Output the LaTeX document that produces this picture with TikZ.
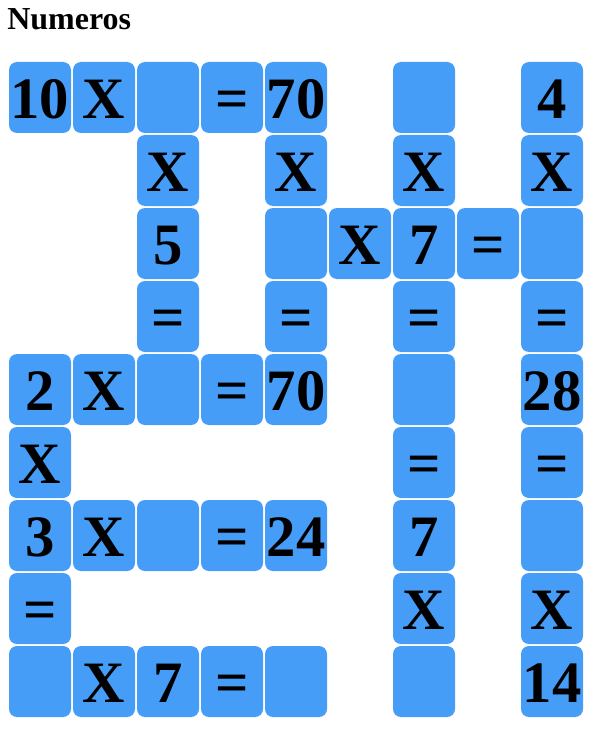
\documentclass[tikz,border=0pt]{standalone}
\usepackage{fontspec}
\setmainfont{Liberation Serif}
\usepackage{xcolor}
\definecolor{cellblue}{HTML}{469DF8}

\begin{document}
\begin{tikzpicture}[x=0.75pt,y=-0.75pt]
    %styles
    \tikzstyle{cell}=[rectangle,rounded corners=6pt,fill=cellblue,minimum width=46.5pt,minimum height=53.25pt,inner sep=0pt,text height=31.5pt,text depth=0pt,font=\fontsize{44}{44}\selectfont\bfseries]
    \tikzstyle{title}=[anchor=base west,inner sep=0pt,font=\fontsize{24}{24}\selectfont\bfseries]
    \useasboundingbox (0,0) rectangle (595,731);
    %title
    \node[title] (tit) at (7,30) {Numeros};
    %row 0
    \node[cell] (a0) at (40,97.5) {10};
    \node[cell] (a1) at (104,97.5) {X};
    \node[cell] (a2) at (168,97.5) {};
    \node[cell] (a3) at (232,97.5) {=};
    \node[cell] (a4) at (296,97.5) {70};
    \node[cell] (a6) at (424,97.5) {};
    \node[cell] (a8) at (552,97.5) {4};
    %row 1
    \node[cell] (b2) at (168,170.5) {X};
    \node[cell] (b4) at (296,170.5) {X};
    \node[cell] (b6) at (424,170.5) {X};
    \node[cell] (b8) at (552,170.5) {X};
    %row 2
    \node[cell] (c2) at (168,243.5) {5};
    \node[cell] (c4) at (296,243.5) {};
    \node[cell] (c5) at (360,243.5) {X};
    \node[cell] (c6) at (424,243.5) {7};
    \node[cell] (c7) at (488,243.5) {=};
    \node[cell] (c8) at (552,243.5) {};
    %row 3
    \node[cell] (d2) at (168,316.5) {=};
    \node[cell] (d4) at (296,316.5) {=};
    \node[cell] (d6) at (424,316.5) {=};
    \node[cell] (d8) at (552,316.5) {=};
    %row 4
    \node[cell] (e0) at (40,389.5) {2};
    \node[cell] (e1) at (104,389.5) {X};
    \node[cell] (e2) at (168,389.5) {};
    \node[cell] (e3) at (232,389.5) {=};
    \node[cell] (e4) at (296,389.5) {70};
    \node[cell] (e6) at (424,389.5) {};
    \node[cell] (e8) at (552,389.5) {28};
    %row 5
    \node[cell] (f0) at (40,462.5) {X};
    \node[cell] (f6) at (424,462.5) {=};
    \node[cell] (f8) at (552,462.5) {=};
    %row 6
    \node[cell] (g0) at (40,535.5) {3};
    \node[cell] (g1) at (104,535.5) {X};
    \node[cell] (g2) at (168,535.5) {};
    \node[cell] (g3) at (232,535.5) {=};
    \node[cell] (g4) at (296,535.5) {24};
    \node[cell] (g6) at (424,535.5) {7};
    \node[cell] (g8) at (552,535.5) {};
    %row 7
    \node[cell] (h0) at (40,608.5) {=};
    \node[cell] (h6) at (424,608.5) {X};
    \node[cell] (h8) at (552,608.5) {X};
    %row 8
    \node[cell] (i0) at (40,681.5) {};
    \node[cell] (i1) at (104,681.5) {X};
    \node[cell] (i2) at (168,681.5) {7};
    \node[cell] (i3) at (232,681.5) {=};
    \node[cell] (i4) at (296,681.5) {};
    \node[cell] (i6) at (424,681.5) {};
    \node[cell] (i8) at (552,681.5) {14};
\end{tikzpicture}
\end{document}
